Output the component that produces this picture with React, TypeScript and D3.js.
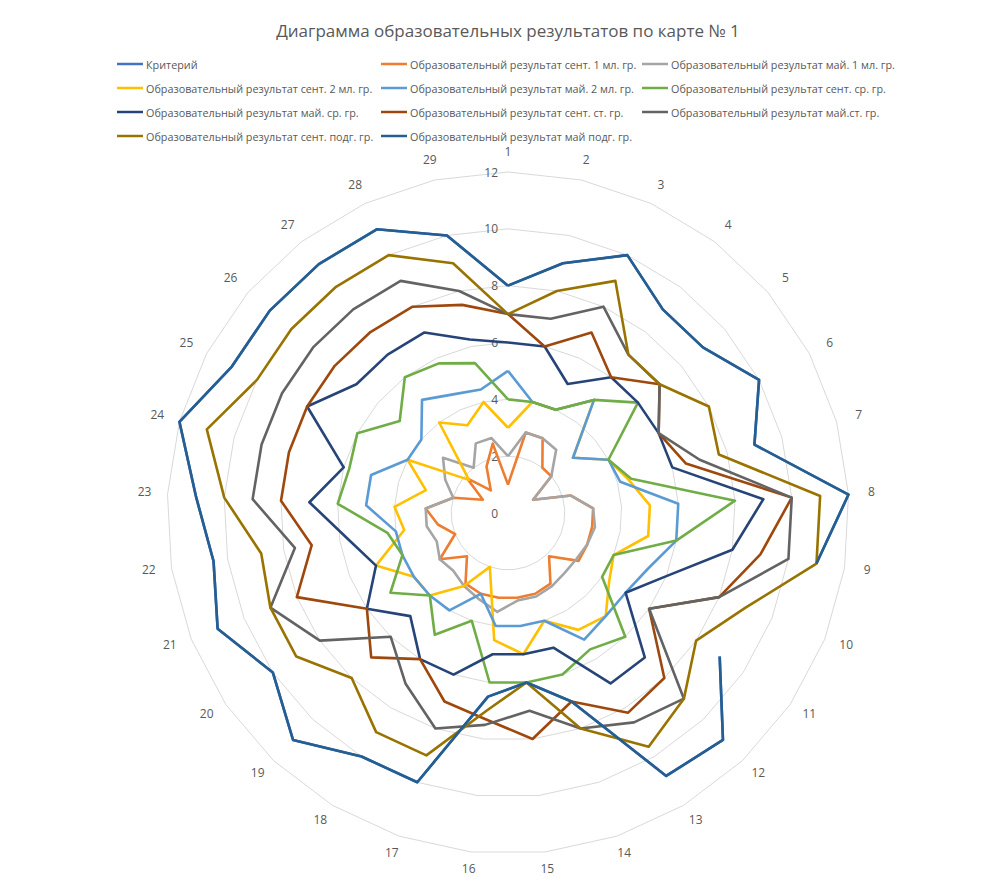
import React from 'react';
import * as d3 from 'd3';

// axis (category) labels and value ticks
const categories = ['1', '2', '3', '4', '5', '6', '7', '8', '9', '10', '11', '12', '13', '14', '15',
  '16', '17', '18', '19', '20', '21', '22', '23', '24', '25', '26', '27', '28', '29'];
const valueTicks = [0, 2, 4, 6, 8, 10, 12];

// series values, one per category (null = gap)
const kriteriy = [8, 9, 10, 9, 9, 10, 9, 12, 11, null, 9, 11, 10.8, 7, 6, 6.5, 10, 10, 11, 10, 11, 10.5, 11, 12, 11, 11, 11, 11, 10];
const sent1ml = [1, 2.9, 2.9, 2, 2, 1, 2.3, 3, 3, 3, 3, 2.1, 2.9, 3, 3, 3, 3, 2.9, 2.1, 2.9, 2, 2.5, 2.9, 2, 1, 1.9, 1, 1.8, 2.5];
const mai1ml = [2, 2.9, 2.9, 2.8, 2, 1, 2.3, 3, 3.1, 3, 2.9, 2.9, 3, 3.1, 3.1, 3.5, 3.2, 3, 2.8, 2.9, 2.7, 2.9, 2.9, 2, 2.5, 3, 2, 2.7, 2.7];
const sent2ml = [3, 4, 4, 5, 3, 4, 4.4, 5, 5, 4, 4.3, 5, 4.8, 4, 5, 4.5, 2, 3, 4, 4, 5, 3.7, 4, 3, 4, 1.8, 4, 3.4, 4];
const mai2ml = [5, 4, 4, 5, 3, 4, 4.1, 6, 6, 5.3, 5, 5, 5.2, 4, 4, 4, 3, 4, 4, 4, 4, 4, 5, 5, 4, 4, 5, 4.6, 4.45];
const sentSr = [4, 4, 4, 5, 6, 4, 4.5, 8, 6, 4, 4, 6, 5.6, 6, 6, 6, 4, 5, 4, 5, 4, 4.3, 6, 5.8, 6, 5, 6, 5.8, 5.4];
const maiSr = [6, 6, 5, 6, 6, 6, 6, 9, 8, 6, 5, 7, 7, 5, 5, 5, 6, 6, 5, 6, 5, 5.7, 7, 6, 8, 7, 7, 7, 6.25];
const sentSt = [7, 6, 7, 6, 7, 6, 6.5, 10, 9, 8, 6, 8, 8.2, 7, 8, 7.3, 7, 6, 7, 6, 8, 7, 8, 8, 8, 8, 8, 8, 7.5];
const maiSt = [7, 7, 8, 7, 7, 6, 7, 10, 10, 8, 6, 9, 8.6, 8, 7, 7.5, 8, 7, 6, 8, 9, 7.6, 9, 9, 9, 9, 9, 9, 8];
const sentPodg = [7, 8, 9, 7, 7, 8, 7.7, 11, 11, 9, 8, 9, 9.6, 8, 6, 7, 9, 9, 8, 9, 9, 8.8, 10, 11, 10, 10, 10, 10, 9];
const maiPodg = [8, 9, 10, 9, 9, 10, 9, 12, 11, null, 9, 11, 10.8, 7, 6, 6.5, 10, 10, 11, 10, 11, 10.5, 11, 12, 11, 11, 11, 11, 10];

const seriesNames = [
  'Критерий',
  'Образовательный результат сент. 1 мл. гр.',
  'Образовательный результат май. 1 мл. гр.',
  'Образовательный результат сент. 2 мл. гр.',
  'Образовательный результат май. 2 мл. гр.',
  'Образовательный результат сент. ср. гр.',
  'Образовательный результат май. ср. гр.',
  'Образовательный результат сент. ст. гр.',
  'Образовательный результат май.ст. гр.',
  'Образовательный результат сент. подг. гр.',
  'Образовательный результат май подг. гр.',
];
const seriesValues = [kriteriy, sent1ml, mai1ml, sent2ml, mai2ml, sentSr, maiSr, sentSt, maiSt, sentPodg, maiPodg];
const seriesColors = ['#4472C4', '#ED7D31', '#A5A5A5', '#FFC000', '#5B9BD5', '#70AD47',
  '#264478', '#9E480E', '#636363', '#997300', '#255E91'];

const W = 992;
const H = 881;
const cx = 508;
const cy = 513;
const font = "'Open Sans', 'Noto Sans', sans-serif";
const textColor = '#595959';

export default function App() {
  const r = d3.scaleLinear().domain([0, 12]).range([0, 341]);
  const angle = d3.scaleLinear().domain([0, categories.length]).range([0, 2 * Math.PI]);

  const ring = d3.lineRadial<number>()
    .angle((_, i) => angle(i))
    .radius(d => r(d))
    .curve(d3.curveLinearClosed);

  type Pt = { a: number; v: number | null };
  const seriesLine = d3.lineRadial<Pt>()
    .angle(d => d.a)
    .radius(d => r(d.v as number))
    .defined(d => d.v != null);

  // close the loop by repeating the first value at 360°
  const toPts = (vals: (number | null)[]): Pt[] => {
    const pts = vals.map((v, i) => ({ a: angle(i), v }));
    pts.push({ a: angle(vals.length), v: vals[0] });
    return pts;
  };

  const legendX = [117, 381, 642];
  const legendY0 = 64;
  const legendDy = 24;

  return (
    <svg width={W} height={H} style={{ position: 'absolute', left: 0, top: 0, background: '#fff' }}
      fontFamily={font}>
      <rect x={0} y={0} width={W} height={H} fill="#fff" />
      <text x={508} y={30} textAnchor="middle" dominantBaseline="central" fontSize={17} fill={textColor}>
        Диаграмма образовательных результатов по карте № 1
      </text>

      {seriesNames.map((name, i) => {
        const x = legendX[i % 3];
        const y = legendY0 + Math.floor(i / 3) * legendDy;
        return (
          <g key={name}>
            <line x1={x} x2={x + 26} y1={y} y2={y} stroke={seriesColors[i]} strokeWidth={2.5} />
            <text x={x + 29} y={y} dominantBaseline="central" fontSize={10.8} fill={textColor}>{name}</text>
          </g>
        );
      })}

      <g transform={`translate(${cx},${cy})`}>
        {valueTicks.filter(t => t > 0).map(t => (
          <path key={t} d={ring(categories.map(() => t)) || ''} fill="none" stroke="#D9D9D9" strokeWidth={1} />
        ))}
        {valueTicks.map(t => (
          <text key={t} x={-10} y={-r(t)} textAnchor="end" dominantBaseline="central" fontSize={12} fill={textColor}>{t}</text>
        ))}
        {categories.map((c, i) => {
          const a = angle(i);
          const rr = r(12) + 19;
          return (
            <text key={c} x={Math.sin(a) * (rr + 4)} y={-Math.cos(a) * rr - 2} textAnchor="middle"
              dominantBaseline="central" fontSize={12} fill={textColor}>{c}</text>
          );
        })}
        {seriesValues.map((vals, i) => (
          <path key={i} d={seriesLine(toPts(vals)) || ''} fill="none" stroke={seriesColors[i]}
            strokeWidth={2.6} strokeLinejoin="round" />
        ))}
      </g>
    </svg>
  );
}
